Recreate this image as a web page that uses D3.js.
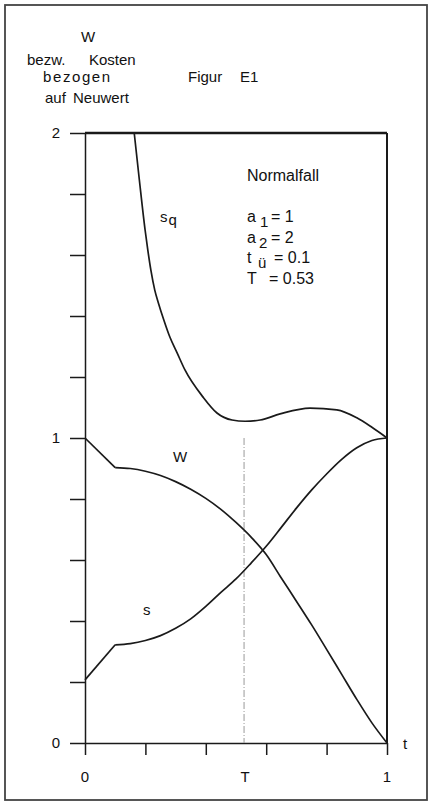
<!DOCTYPE html>
<html>
<head>
<meta charset="utf-8">
<script src="https://cdn.jsdelivr.net/npm/d3@7"></script>
<style>
  body { margin: 0; background: #fff; }
  svg { display: block; font-family: "Liberation Sans", Arial, sans-serif; }
  .axis path, .axis line { stroke: #1a1a1a; stroke-width: 1.5; }
  .axis text { font-size: 15px; fill: #111; font-family: "Liberation Sans", Arial, sans-serif; }
  .curve { fill: none; stroke: #1a1a1a; stroke-width: 1.7; }
  .lbl { font-size: 15px; fill: #111; }
</style>
</head>
<body>
<script>
// axis ticks
var tTicks = [0, 0.2, 0.4, 0.6, 0.8, 1];
var vTicks = [0, 0.2, 0.4, 0.6, 0.8, 1, 1.2, 1.4, 1.6, 1.8, 2];
var vLabeled = [0, 1, 2];
var tLabelPos = [0, 0.53, 1];
var tLabelText = ["0", "T", "1"];

// optimal replacement time
var T = 0.53;

// W (Restwert)
var wT = [0, 0.1, 0.15, 0.2, 0.25, 0.3, 0.35, 0.4, 0.45, 0.5, 0.55, 0.6, 0.65, 0.7, 0.75, 0.8, 0.85, 0.9, 0.95, 1];
var wV = [1, 0.903, 0.9, 0.891, 0.877, 0.857, 0.832, 0.802, 0.766, 0.723, 0.675, 0.618, 0.541, 0.465, 0.388, 0.307, 0.225, 0.143, 0.066, 0];

// s (Kosten)
var sT = [0, 0.1, 0.15, 0.2, 0.25, 0.3, 0.35, 0.4, 0.45, 0.5, 0.55, 0.6, 0.65, 0.7, 0.75, 0.8, 0.85, 0.9, 0.95, 1];
var sV = [0.207, 0.322, 0.326, 0.336, 0.352, 0.376, 0.407, 0.448, 0.494, 0.538, 0.59, 0.645, 0.707, 0.77, 0.829, 0.882, 0.93, 0.968, 0.992, 1];

// s_q (Durchschnittskosten)
var sqT = [0.163, 0.18, 0.199, 0.208, 0.218, 0.231, 0.243, 0.261, 0.281, 0.305, 0.331, 0.391, 0.437, 0.487, 0.53, 0.58, 0.646, 0.745, 0.834, 0.9, 0.95, 1];
var sqV = [2, 1.846, 1.682, 1.616, 1.551, 1.485, 1.443, 1.387, 1.331, 1.279, 1.223, 1.134, 1.082, 1.059, 1.055, 1.059, 1.079, 1.098, 1.092, 1.066, 1.035, 1];

var legendTitle = "Normalfall";
var legendRows = [
  ["a", "1", "= 1"],
  ["a", "2", "= 2"],
  ["t", "ü", "= 0.1"],
  ["T", "", "= 0.53"]
];

var width = 431, height = 805;

var svg = d3.select("body")
  .append("svg")
  .attr("width", width)
  .attr("height", height);

// outer frame
svg.append("rect")
  .attr("x", 5).attr("y", 5)
  .attr("width", 422).attr("height", 795)
  .attr("fill", "none")
  .attr("stroke", "#444")
  .attr("stroke-width", 1.8);

var x = d3.scaleLinear().domain([0, 1]).range([85, 387]);
var y = d3.scaleLinear().domain([0, 2]).range([743, 133]);

// y axis
svg.append("g")
  .attr("class", "axis")
  .attr("transform", "translate(" + x(0) + ",0)")
  .call(d3.axisLeft(y)
    .tickValues(vTicks)
    .tickSize(15)
    .tickSizeOuter(0)
    .tickPadding(10)
    .tickFormat(function (d) { return vLabeled.indexOf(d) >= 0 ? d : ""; }));

// x axis
svg.append("g")
  .attr("class", "axis")
  .attr("transform", "translate(0," + y(0) + ")")
  .call(d3.axisBottom(x)
    .tickValues(tTicks)
    .tickSize(12)
    .tickSizeOuter(0)
    .tickFormat(""));

svg.selectAll(".tlabel")
  .data(tLabelPos).enter()
  .append("text")
  .attr("class", "lbl")
  .attr("x", function (d) { return x(d); })
  .attr("y", 782)
  .attr("text-anchor", "middle")
  .text(function (d, i) { return tLabelText[i]; });

svg.append("text").attr("class", "lbl")
  .attr("x", 403).attr("y", y(0) + 6)
  .text("t");

// top and right frame of the plot
svg.append("line")
  .attr("x1", x(0)).attr("x2", x(1))
  .attr("y1", y(2)).attr("y2", y(2))
  .attr("stroke", "#1a1a1a").attr("stroke-width", 2.5);
svg.append("line")
  .attr("x1", x(1)).attr("x2", x(1))
  .attr("y1", y(2)).attr("y2", y(0))
  .attr("stroke", "#1a1a1a").attr("stroke-width", 2);

// dash-dot line at T, from the minimum of s_q down to the axis
svg.append("line")
  .attr("x1", x(T) - 1).attr("x2", x(T) - 1)
  .attr("y1", y(d3.min(sqV))).attr("y2", y(0))
  .attr("stroke", "#999")
  .attr("stroke-width", 1)
  .attr("stroke-dasharray", "7,2,1,2");

var straight = d3.line()
  .x(function (d) { return x(d[0]); })
  .y(function (d) { return y(d[1]); });
var smooth = d3.line()
  .curve(d3.curveMonotoneX)
  .x(function (d) { return x(d[0]); })
  .y(function (d) { return y(d[1]); });

function drawKinked(ts, vs) {
  var pts = ts.map(function (t, i) { return [t, vs[i]]; });
  svg.append("path").attr("class", "curve").attr("d", straight(pts.slice(0, 2)));
  svg.append("path").attr("class", "curve").attr("d", smooth(pts.slice(1)));
}

drawKinked(wT, wV);
drawKinked(sT, sV);
svg.append("path")
  .attr("class", "curve")
  .attr("d", smooth(sqT.map(function (t, i) { return [t, sqV[i]]; })));

// curve labels
svg.append("text").attr("class", "lbl").attr("x", 160).attr("y", 222).text("s")
  .append("tspan").attr("dx", 1).attr("dy", 3).text("q");
svg.append("text").attr("class", "lbl").attr("x", 173).attr("y", 462).text("W");
svg.append("text").attr("class", "lbl").attr("x", 143).attr("y", 615).text("s");

// header texts
var head = svg.append("g").attr("class", "lbl");
head.append("text").attr("x", 81).attr("y", 42).text("W");
head.append("text").attr("x", 27).attr("y", 65).text("bezw.");
head.append("text").attr("x", 89).attr("y", 65).text("Kosten");
head.append("text").attr("x", 43).attr("y", 82).attr("letter-spacing", 1.6).text("bezogen");
head.append("text").attr("x", 45).attr("y", 103).attr("word-spacing", 3).text("auf Neuwert");
head.append("text").attr("x", 188).attr("y", 82).text("Figur");
head.append("text").attr("x", 240).attr("y", 82).text("E1");

// legend
var leg = svg.append("g").attr("class", "lbl").style("font-size", "16px");
leg.append("text").attr("x", 247).attr("y", 181).text(legendTitle);
var rowX = [[247, 260, 271], [247, 259, 271], [247, 258, 274], [247, 0, 269]];
legendRows.forEach(function (r, i) {
  var by = 222 + i * 20.5;
  leg.append("text").attr("x", rowX[i][0]).attr("y", by).text(r[0]);
  if (r[1]) leg.append("text").attr("x", rowX[i][1]).attr("y", by + 5)
    .style("font-size", "15px").text(r[1]);
  leg.append("text").attr("x", rowX[i][2]).attr("y", by).text(r[2]);
});
</script>
</body>
</html>
